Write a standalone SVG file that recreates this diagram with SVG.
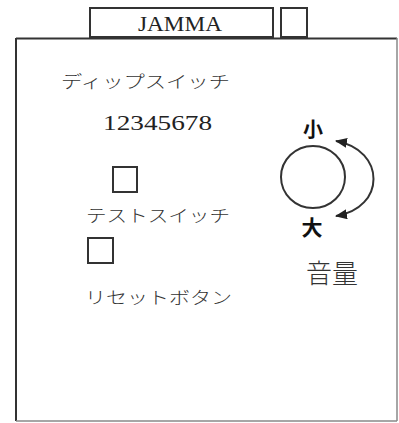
<svg xmlns="http://www.w3.org/2000/svg" width="399" height="423" viewBox="0 0 399 423">
<defs>
<style>
.ln{fill:none;stroke:#333;stroke-width:2}
.lt{fill:none;stroke:#888;stroke-width:1.5}
.jp{font-family:"Noto Sans CJK JP","Noto Sans",sans-serif;fill:#333;font-weight:300}
.sr{font-family:"Liberation Serif","DejaVu Serif",serif;fill:#222}
.bd{font-family:"Noto Sans CJK JP",sans-serif;fill:#111;font-weight:700}
</style>
<marker id="ah" viewBox="0 0 12 10" refX="11" refY="5" markerWidth="12" markerHeight="10" markerUnits="userSpaceOnUse" orient="auto-start-reverse">
<path d="M0 0 L12 5 L0 10 Z" fill="#222"/>
</marker>
</defs>
<rect width="399" height="423" fill="#fff"/>
<g id="board">
<line x1="16" y1="38.5" x2="397" y2="38.5" class="ln"/>
<line x1="16" y1="38" x2="16" y2="421" class="ln"/>
<line x1="397" y1="38" x2="397" y2="421" class="lt"/>
<line x1="16" y1="421" x2="397" y2="421" class="lt"/>
</g>
<g id="jamma">
<rect x="90" y="8" width="183" height="29" class="ln"/>
<text x="180" y="31" class="sr" font-size="22" text-anchor="middle" textLength="84" lengthAdjust="spacingAndGlyphs">JAMMA</text>
</g>
<g id="connector">
<rect x="281" y="8" width="26" height="29" class="ln"/>
</g>
<g id="dipswitch">
<text x="61" y="88" class="jp" font-size="17" textLength="169" lengthAdjust="spacingAndGlyphs">ディップスイッチ</text>
<text x="103" y="130" class="sr" font-size="21" textLength="109" lengthAdjust="spacingAndGlyphs">12345678</text>
</g>
<g id="testswitch">
<rect x="113" y="167" width="24" height="25" class="ln" stroke="#444"/>
<text x="86" y="222" class="jp" font-size="17" textLength="144" lengthAdjust="spacingAndGlyphs">テストスイッチ</text>
</g>
<g id="resetbutton">
<rect x="88" y="238" width="25" height="25" class="ln" stroke="#444"/>
<text x="85" y="304" class="jp" font-size="17" textLength="147" lengthAdjust="spacingAndGlyphs">リセットボタン</text>
</g>
<g id="volume">
<ellipse cx="313" cy="177" rx="32" ry="31" class="ln"/>
<text x="313" y="137" class="bd" font-size="20" text-anchor="middle">小</text>
<text x="312" y="235" class="bd" font-size="21" text-anchor="middle">大</text>
<text x="332" y="283" class="jp" font-size="26" text-anchor="middle" fill="#444">音量</text>
</g>
<g id="connectors">
<path d="M336 141 C386 150 386 208 336 216" class="ln" stroke="#222" marker-start="url(#ah)" marker-end="url(#ah)"/>
</g>
</svg>
